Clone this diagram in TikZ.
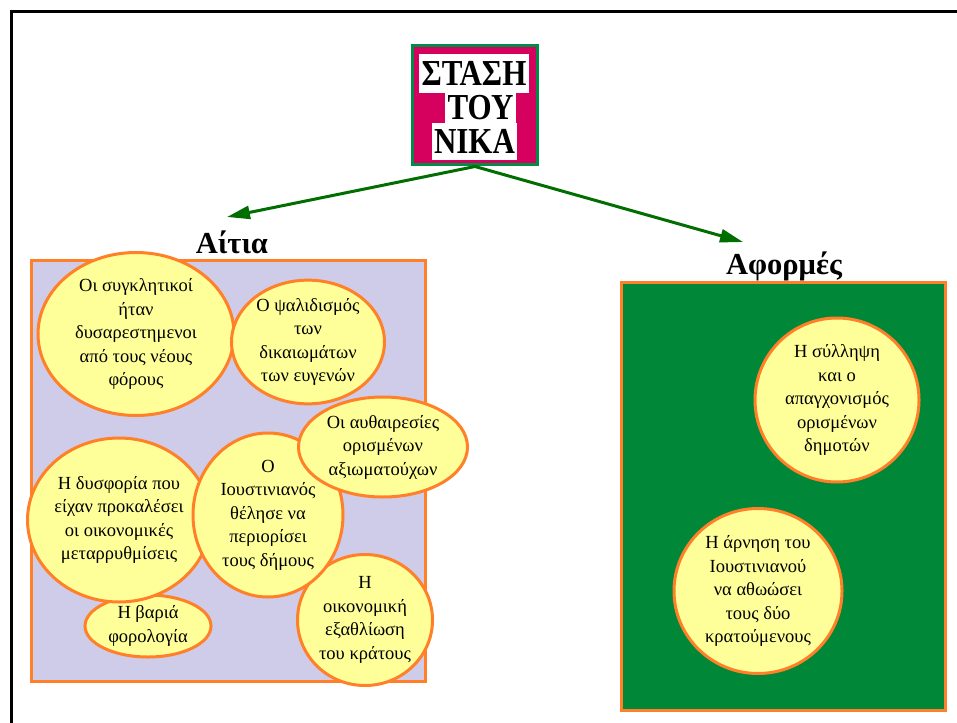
\documentclass[tikz,border=0pt]{standalone}
\usepackage{fontspec}
\setmainfont{Liberation Serif}
\usepackage{xcolor}
\usetikzlibrary{shapes.geometric,arrows.meta}

\definecolor{boxorange}{RGB}{255,128,40}
\definecolor{causeyellow}{RGB}{255,255,153}
\definecolor{causelilac}{RGB}{206,204,232}
\definecolor{triggergreen}{RGB}{0,136,56}
\definecolor{titlemagenta}{RGB}{214,0,94}
\definecolor{titlegreen}{RGB}{0,140,70}
\definecolor{arrowgreen}{RGB}{0,110,0}

\newcommand{\tallword}[1]{\scalebox{1}[1.18]{#1}}

\begin{document}
\begin{tikzpicture}[x=1pt,y=-1pt]
        % Define styles
        \tikzset{
            cause/.style={ellipse, draw=boxorange, line width=3pt, fill=causeyellow, inner sep=0pt, align=center, font=\fontsize{18.5}{23.5}\selectfont},
            panel/.style={rectangle, draw=boxorange, line width=3pt, inner sep=0pt},
            heading/.style={inner sep=0pt, font=\bfseries\fontsize{30.5}{34}\selectfont},
            titleline/.style={fill=white, inner xsep=2.5pt, inner ysep=0pt, font=\bfseries\fontsize{31}{36}\selectfont},
            arrow/.style={-{Triangle[length=23pt,width=13pt]}, draw=arrowgreen, line width=3pt}
        }
        \useasboundingbox (0,0) rectangle (957,722);

        % Frame
        \draw[line width=3pt] (11,740) |- (970,12);

        % Title
        \node[rectangle, draw=titlegreen, line width=3pt, fill=titlemagenta, minimum width=125pt, minimum height=119pt] (title_node) at (475,105.5) {};
        \node[titleline, minimum height=39pt] (title_line_1) at (474,73.5) {\tallword{ΣΤΑΣΗ}};
        \node[titleline, minimum height=30pt] (title_line_2) at (480.5,108) {\tallword{ΤΟΥ}};
        \node[titleline, minimum height=37pt] (title_line_3) at (474.5,141.5) {\tallword{ΝΙΚΑ}};

        % Headings
        \node[heading] (causes_label) at (232,242) {Αίτια};
        \node[heading] (triggers_label) at (784,266) {Αφορμές};
        \coordinate (causes_tip) at (227,217);
        \coordinate (triggers_tip) at (743,242);

        % Panels
        \node[panel, fill=causelilac, minimum width=394pt, minimum height=421pt] (causes_box) at (228,470.5) {};
        \node[panel, fill=triggergreen, minimum width=324pt, minimum height=428pt] (triggers_box) at (783,496) {};

        % Causes
        \node[cause, minimum width=196pt, minimum height=163pt] (cause_node_1) at (136,334) {Οι συγκλητικοί\\ήταν\\δυσαρεστημενοι\\από τους νέους\\φόρους};
        \node[cause, minimum width=153pt, minimum height=105pt] (cause_node_2) at (308,342) {Ο ψαλιδισμός\\των\\δικαιωμάτων\\των ευγενών};
        \node[cause, minimum width=126pt, minimum height=62pt] (cause_node_6) at (148,626) {Η βαριά\\φορολογία};
        \node[cause, minimum width=178pt, minimum height=164pt] (cause_node_4) at (119,520) {Η δυσφορία που\\είχαν προκαλέσει\\οι οικονομικές\\μεταρρυθμίσεις};
        \node[cause, minimum width=135pt, minimum height=131pt] (cause_node_7) at (365,620) {Η\\οικονομική\\εξαθλίωση\\του κράτους};
        \node[cause, minimum width=150pt, minimum height=164pt] (cause_node_5) at (268,515) {Ο\\Ιουστινιανός\\θέλησε να\\περιορίσει\\τους δήμους};
        \node[cause, minimum width=169pt, minimum height=100pt] (cause_node_3) at (383,447) {Οι αυθαιρεσίες\\ορισμένων\\αξιωματούχων};

        % Triggers
        \node[cause, minimum width=164pt, minimum height=164pt] (trigger_node_1) at (837,400) {Η σύλληψη\\και ο\\απαγχονισμός\\ορισμένων\\δημοτών};
        \node[cause, minimum width=168pt, minimum height=165pt] (trigger_node_2) at (758,591) {Η άρνηση του\\Ιουστινιανού\\να αθωώσει\\τους δύο\\κρατούμενους};

        % Arrows
        \draw[arrow] (title_node.south) -- (causes_tip);
        \draw[arrow] (title_node.south) -- (triggers_tip);
\end{tikzpicture}
\end{document}
